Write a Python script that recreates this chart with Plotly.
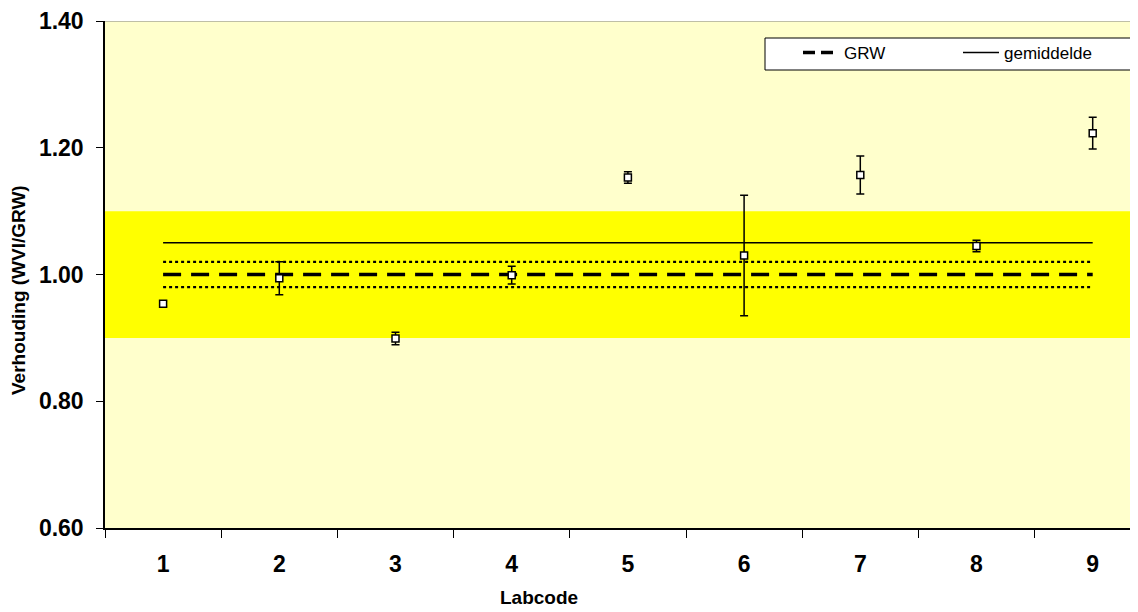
import plotly.graph_objects as go

labcodes = [1, 2, 3, 4, 5, 6, 7, 8, 9]
ratio = [0.954, 0.994, 0.899, 0.999, 1.153, 1.030, 1.157, 1.045, 1.223]
ratio_err = [0.004, 0.026, 0.010, 0.014, 0.009, 0.095, 0.030, 0.009, 0.025]
grw = 1.00
gemiddelde = 1.05
grw_lower = 0.98
grw_upper = 1.02
band_lower = 0.90
band_upper = 1.10
y_ticks = [0.60, 0.80, 1.00, 1.20, 1.40]

# page body has an 8px offset, so the figure is sized to fill the window exactly
OFF = 8
W, H = 1138 - OFF, 612 - OFF
L, R, T, B = 105 - OFF, 0, 21 - OFF, 612 - 528
PW = W - L - R
PH = H - T - B
cat_w = 116.2
x_max = 0.5 + PW / cat_w


def px_x(sx):
    return (sx - OFF - L) / PW


def px_y(sy):
    return (H - B - (sy - OFF)) / PH


fig = go.Figure()

x_line = [labcodes[0], labcodes[-1]]
fig.add_trace(go.Scatter(x=x_line, y=[grw_upper] * 2, mode="lines",
                         line=dict(color="black", width=2.2, dash="dot"),
                         showlegend=False, hoverinfo="skip"))
fig.add_trace(go.Scatter(x=x_line, y=[grw_lower] * 2, mode="lines",
                         line=dict(color="black", width=2.2, dash="dot"),
                         showlegend=False, hoverinfo="skip"))
fig.add_trace(go.Scatter(x=x_line, y=[grw] * 2, mode="lines", showlegend=False,
                         line=dict(color="black", width=3.5, dash="18px,10px"),
                         hoverinfo="skip"))
# legend-only entry for GRW (shorter dash pattern as in the legend sample)
fig.add_trace(go.Scatter(x=[None], y=[None], mode="lines", name="GRW",
                         legend="legend",
                         line=dict(color="black", width=3.5, dash="12px,6px")))
fig.add_trace(go.Scatter(x=x_line, y=[gemiddelde] * 2, mode="lines",
                         name="gemiddelde", legend="legend2",
                         line=dict(color="black", width=1.5)))
fig.add_trace(go.Scatter(
    x=labcodes, y=ratio, mode="markers", showlegend=False,
    marker=dict(symbol="square", size=7, color="white",
                line=dict(color="black", width=1.5)),
    error_y=dict(type="data", array=ratio_err, visible=True,
                 color="black", thickness=1.5, width=4),
))

fig.add_shape(type="rect", xref="paper", yref="y", x0=0, x1=1,
              y0=band_lower, y1=band_upper, fillcolor="#FFFF00",
              line=dict(width=0), layer="below")
fig.add_shape(type="line", xref="paper", yref="y", x0=0, x1=1,
              y0=y_ticks[-1], y1=y_ticks[-1], line=dict(color="#808080", width=1),
              layer="above")
# legend frame
fig.add_shape(type="rect", xref="paper", yref="paper",
              x0=px_x(765), x1=px_x(1132), y0=px_y(70), y1=px_y(38),
              fillcolor="white", line=dict(color="black", width=1), layer="above")

font_fam = "Liberation Sans, Arial, sans-serif"

leg_common = dict(orientation="h", xanchor="left", yanchor="top",
                  bgcolor="rgba(0,0,0,0)", borderwidth=0,
                  font=dict(size=17, family=font_fam), itemwidth=36)

fig.update_layout(
    width=W, height=H,
    margin=dict(l=L, r=R, t=T, b=B, autoexpand=False),
    paper_bgcolor="white",
    plot_bgcolor="#FFFFCC",
    font=dict(family=font_fam, color="black"),
    xaxis=dict(
        range=[0.5, x_max], tickmode="array", tickvals=labcodes,
        ticktext=[str(v) for v in labcodes], ticks="", showgrid=False,
        zeroline=False, showline=True, linecolor="black", linewidth=1.5,
        tickfont=dict(size=23, family=font_fam, weight="bold"),
        ticklabelstandoff=15, automargin=False,
        minor=dict(tickmode="linear", tick0=0.5, dtick=1, ticks="outside",
                   ticklen=8, tickwidth=1, tickcolor="black", showgrid=False),
    ),
    yaxis=dict(
        range=[y_ticks[0], y_ticks[-1]], tickmode="array", tickvals=y_ticks,
        ticktext=[f"{v:.2f}" for v in y_ticks], ticks="outside", ticklen=7,
        tickwidth=1, tickcolor="black", showgrid=False, zeroline=False,
        showline=True, linecolor="black", linewidth=1.5,
        tickfont=dict(size=23, family=font_fam, weight="bold"),
        ticklabelstandoff=8, automargin=False,
    ),
    legend=dict(x=px_x(765), y=px_y(35), indentation=33, **leg_common),
    legend2=dict(x=px_x(925), y=px_y(35), indentation=33, **leg_common),
    annotations=[
        dict(text="<b>Labcode</b>", xref="paper", yref="paper",
             x=px_x(539), y=px_y(597),
             xanchor="center", yanchor="middle", showarrow=False,
             font=dict(size=19, family=font_fam)),
        dict(text="<b>Verhouding (WVI/GRW)</b>", xref="paper", yref="paper",
             x=px_x(18), y=px_y(290),
             xanchor="center", yanchor="middle", showarrow=False, textangle=-90,
             font=dict(size=19, family=font_fam)),
    ],
)

fig.write_html("out.html")
